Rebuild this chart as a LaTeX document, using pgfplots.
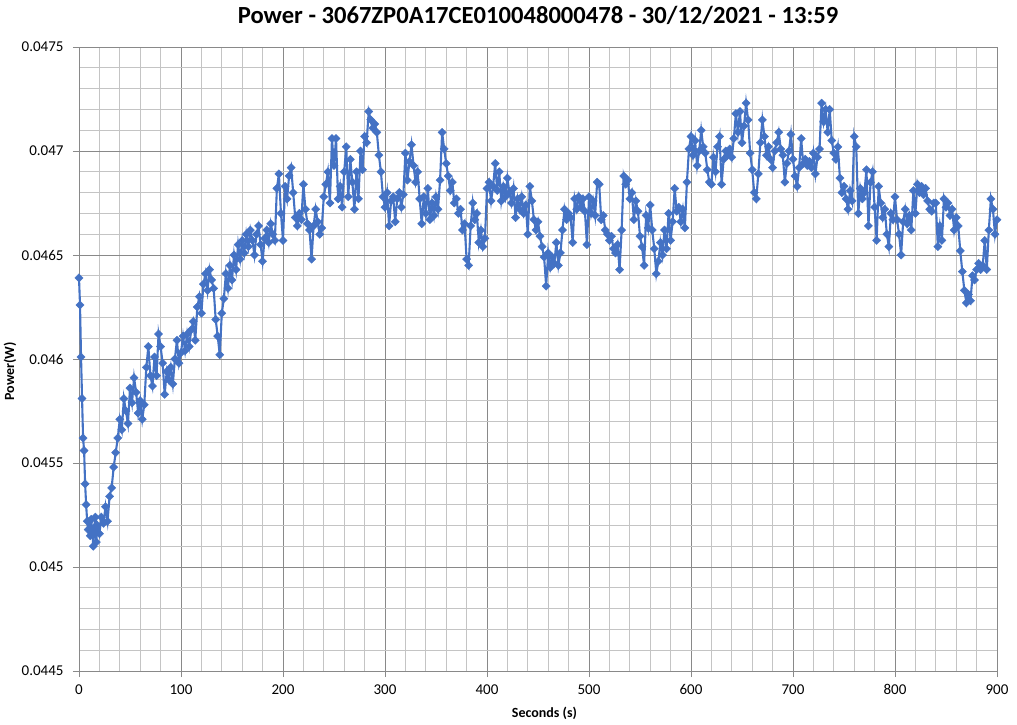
\documentclass[border=0pt]{standalone}
\usepackage{fontspec}
\setmainfont{Carlito}
\usepackage{pgfplots}
\pgfplotsset{compat=1.18}
\usepackage{pgfplotstable}
\definecolor{ser}{HTML}{4472C4}
\definecolor{majgrid}{HTML}{898989}
\definecolor{mingrid}{HTML}{C4C4C4}
\pgfplotstableread{
t v
0 0.04639
1 0.04626
2 0.04601
3 0.04581
4 0.04562
5 0.04556
6 0.04540
7 0.04530
8 0.04522
9 0.04518
10 0.04522
11 0.04515
12 0.04523
13 0.04517
14 0.04510
15 0.04519
16 0.04524
17 0.04512
18 0.04520
20 0.04516
22 0.04524
24 0.04521
26 0.04529
28 0.04522
30 0.04534
32 0.04538
34 0.04548
36 0.04555
38 0.04562
40 0.04571
42 0.04566
44 0.04581
46 0.04575
48 0.04569
50 0.04586
52 0.04579
54 0.04591
56 0.04584
58 0.04574
60 0.04580
62 0.04571
64 0.04578
66 0.04596
68 0.04606
70 0.04592
72 0.04587
74 0.04601
76 0.04592
78 0.04612
80 0.04606
82 0.04598
84 0.04583
86 0.04594
88 0.04590
90 0.04596
92 0.04588
94 0.04600
96 0.04609
98 0.04598
100 0.04603
102 0.04611
104 0.04604
106 0.04612
108 0.04606
110 0.04614
112 0.04618
114 0.04609
116 0.04625
118 0.04630
120 0.04622
122 0.04636
124 0.04641
126 0.04633
128 0.04643
130 0.04638
132 0.04634
134 0.04619
136 0.04611
138 0.04602
140 0.04622
142 0.04629
144 0.04641
146 0.04634
148 0.04645
150 0.04638
152 0.04650
154 0.04643
156 0.04655
158 0.04648
160 0.04657
162 0.04651
164 0.04660
166 0.04654
168 0.04662
170 0.04657
172 0.04650
174 0.04660
176 0.04664
178 0.04655
180 0.04647
182 0.04658
184 0.04662
186 0.04656
188 0.04665
190 0.04660
192 0.04657
194 0.04682
196 0.04689
198 0.04670
200 0.04657
202 0.04683
204 0.04677
206 0.04688
208 0.04692
210 0.04680
212 0.04668
214 0.04664
216 0.04670
218 0.04667
220 0.04684
222 0.04672
224 0.04665
226 0.04662
228 0.04648
230 0.04664
232 0.04672
234 0.04666
236 0.04660
238 0.04663
240 0.04678
242 0.04684
244 0.04690
246 0.04675
248 0.04706
250 0.04693
252 0.04706
254 0.04677
256 0.04683
258 0.04673
260 0.04690
262 0.04702
264 0.04678
266 0.04696
268 0.04685
270 0.04672
272 0.04690
274 0.04677
276 0.04700
278 0.04691
280 0.04707
282 0.04704
284 0.04719
286 0.04715
288 0.04711
290 0.04713
292 0.04709
294 0.04698
296 0.04690
298 0.04678
300 0.04673
302 0.04680
304 0.04664
306 0.04676
308 0.04678
310 0.04666
312 0.04677
314 0.04680
316 0.04673
318 0.04679
320 0.04699
322 0.04686
324 0.04695
326 0.04703
328 0.04693
330 0.04685
332 0.04690
334 0.04677
336 0.04665
338 0.04678
340 0.04670
342 0.04682
344 0.04667
346 0.04675
348 0.04669
350 0.04678
352 0.04672
354 0.04686
356 0.04709
358 0.04701
360 0.04694
362 0.04688
364 0.04681
366 0.04685
368 0.04675
370 0.04677
372 0.04670
374 0.04672
376 0.04662
378 0.04665
380 0.04648
382 0.04645
384 0.04664
386 0.04675
388 0.04667
390 0.04670
392 0.04656
394 0.04662
396 0.04654
398 0.04658
400 0.04682
402 0.04685
404 0.04676
406 0.04683
408 0.04694
410 0.04681
412 0.04690
414 0.04676
416 0.04683
418 0.04678
420 0.04687
422 0.04680
424 0.04675
426 0.04682
428 0.04668
430 0.04677
432 0.04672
434 0.04678
436 0.04670
438 0.04674
440 0.04660
442 0.04683
444 0.04676
446 0.04667
448 0.04662
450 0.04666
452 0.04659
454 0.04654
456 0.04649
458 0.04635
460 0.04651
462 0.04644
464 0.04649
466 0.04646
468 0.04656
470 0.04645
472 0.04651
474 0.04662
476 0.04672
478 0.04667
480 0.04670
482 0.04668
484 0.04656
486 0.04677
488 0.04672
490 0.04678
492 0.04673
494 0.04677
496 0.04671
498 0.04655
500 0.04678
502 0.04670
504 0.04676
506 0.04669
508 0.04685
510 0.04684
512 0.04667
514 0.04669
516 0.04662
518 0.04660
520 0.04657
522 0.04659
524 0.04653
526 0.04651
528 0.04655
530 0.04643
532 0.04662
534 0.04688
536 0.04684
538 0.04686
540 0.04677
542 0.04680
544 0.04667
546 0.04676
548 0.04671
550 0.04659
552 0.04654
554 0.04645
556 0.04669
558 0.04663
560 0.04674
562 0.04662
564 0.04653
566 0.04641
568 0.04647
570 0.04656
572 0.04650
574 0.04662
576 0.04653
578 0.04670
580 0.04657
582 0.04666
584 0.04682
586 0.04671
588 0.04673
590 0.04666
592 0.04672
594 0.04663
596 0.04685
598 0.04701
600 0.04707
602 0.04698
604 0.04705
606 0.04693
608 0.04700
610 0.04710
612 0.04702
614 0.04699
616 0.04691
618 0.04685
620 0.04684
622 0.04697
624 0.04690
626 0.04702
628 0.04707
630 0.04684
632 0.04696
634 0.04700
636 0.04698
638 0.04701
640 0.04697
642 0.04706
644 0.04718
646 0.04709
648 0.04719
650 0.04704
652 0.04712
654 0.04723
656 0.04715
658 0.04699
660 0.04691
662 0.04680
664 0.04677
666 0.04689
668 0.04704
670 0.04715
672 0.04707
674 0.04698
676 0.04702
678 0.04696
680 0.04692
682 0.04700
684 0.04704
686 0.04709
688 0.04701
690 0.04698
692 0.04685
694 0.04694
696 0.04700
698 0.04708
700 0.04696
702 0.04688
704 0.04683
706 0.04692
708 0.04706
710 0.04694
712 0.04696
714 0.04693
716 0.04695
718 0.04692
720 0.04699
722 0.04689
724 0.04697
726 0.04701
728 0.04723
730 0.04714
732 0.04720
734 0.04709
736 0.04720
738 0.04705
740 0.04699
742 0.04696
744 0.04702
746 0.04687
748 0.04680
750 0.04683
752 0.04677
754 0.04672
756 0.04681
758 0.04676
760 0.04707
762 0.04702
764 0.04670
766 0.04682
768 0.04677
770 0.04680
772 0.04691
774 0.04664
776 0.04685
778 0.04690
780 0.04673
782 0.04657
784 0.04683
786 0.04675
788 0.04668
790 0.04672
792 0.04660
794 0.04654
796 0.04670
798 0.04667
800 0.04678
802 0.04667
804 0.04660
806 0.04650
808 0.04666
810 0.04672
812 0.04665
814 0.04669
816 0.04662
818 0.04681
820 0.04670
822 0.04684
824 0.04680
826 0.04683
828 0.04679
830 0.04682
832 0.04676
834 0.04672
836 0.04671
838 0.04675
840 0.04675
842 0.04654
844 0.04664
846 0.04657
848 0.04677
850 0.04673
852 0.04675
854 0.04669
856 0.04672
858 0.04662
860 0.04668
862 0.04664
864 0.04652
866 0.04642
868 0.04633
870 0.04627
872 0.04631
874 0.04628
876 0.04640
878 0.04638
880 0.04643
882 0.04646
884 0.04643
886 0.04645
888 0.04657
890 0.04643
892 0.04662
894 0.04677
896 0.04672
898 0.04660
900 0.04667
}\powerdata
\begin{document}
\begin{tikzpicture}[x=1pt,y=1pt]
\path[use as bounding box] (-79,-53) rectangle (938,671);
\begin{axis}[
  at={(0,0)}, anchor=south west,
  scale only axis, width=918pt, height=624pt,
  xmin=0, xmax=900, ymin=0.0445, ymax=0.0475,
  xtick={0,100,...,900},
  ytick={0.0445,0.045,0.0455,0.046,0.0465,0.047,0.0475},
  minor x tick num=4, minor y tick num=4,
  grid=both,
  major grid style={draw=majgrid, line width=0.8pt},
  minor grid style={draw=mingrid, line width=0.8pt},
  axis line style={draw=majgrid, line width=0.8pt},
  axis x line*=bottom, axis y line*=left,
  tick align=outside,
  major tick length=6pt, minor tick length=0pt,
  major tick style={draw=majgrid, line width=0.8pt},
  scaled y ticks=false,
  /pgf/number format/assume math mode=true,
  yticklabel style={/pgf/number format/fixed, /pgf/number format/precision=4},
  tick label style={font=\fontsize{15}{18}\selectfont, text=black},
  xticklabel style={yshift=-4pt},
  yticklabel style={xshift=-6pt},
  title={Power - 3067ZP0A17CE010048000478 - 30/12/2021 - 13:59},
  title style={font=\bfseries\fontsize{24.6}{28}\selectfont, at={(0.5,1)}, anchor=base, yshift=18pt},
  xlabel={Seconds (s)},
  xlabel style={font=\bfseries\fontsize{14}{16}\selectfont, at={(0.507,0)}, anchor=base, yshift=-46pt},
  ylabel={Power(W)},
  ylabel style={font=\bfseries\fontsize{14}{16}\selectfont, at={(-0.0752,0.48)}, anchor=center},
  clip=false,
]
\addplot[color=ser, line width=2.1pt, mark=square*, mark size=2.9pt,
  mark options={fill=ser, draw=ser, line width=0.4pt, rotate=45}] table[x=t, y=v] {\powerdata};
\end{axis}
\end{tikzpicture}
\end{document}
